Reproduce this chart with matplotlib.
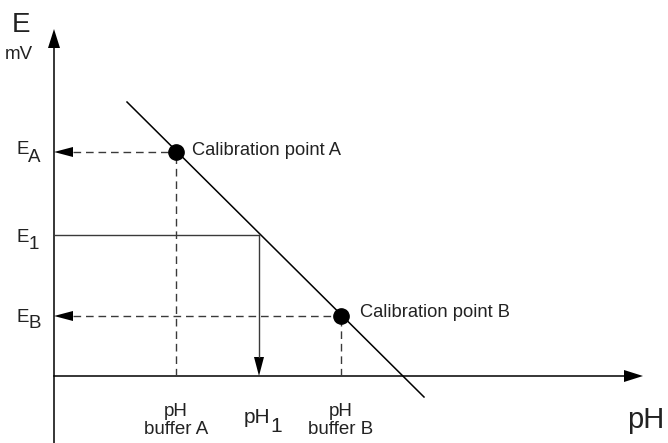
import matplotlib
matplotlib.use("Agg")
import matplotlib.pyplot as plt

plt.rcParams['font.family'] = ['Liberation Sans', 'DejaVu Sans']

# diagram units (origin = axis crossing, 1 unit ~ 1 px)
ph_cal = [122, 287]          # pH buffer A, pH buffer B
e_cal = [224, 60]            # E_A, E_B
cal_names = ['Calibration point A', 'Calibration point B']
ph_1 = 205
e_1 = 141
line_x = [73, 370]           # electrode response line
line_y = [274, -21]
x_axis_end = 589
y_axis_end = 347
y_axis_start = -67

fig = plt.figure(figsize=(6.68, 4.43), dpi=100)
ax = fig.add_axes([0, 0, 1, 1])
ax.set_xlim(-54, 614)
ax.set_ylim(-67, 376)
ax.axis('off')

# axes with arrow heads
hl = 19
hw = 12
ax.plot([0, 0], [y_axis_start, y_axis_end - hl], color='black', lw=1.1)
ax.arrow(0, y_axis_end - hl, 0, hl, head_width=hw, head_length=hl,
         length_includes_head=True, fc='black', ec='none', width=0.01)
ax.plot([0, x_axis_end - hl], [0, 0], color='black', lw=1.1)
ax.arrow(x_axis_end - hl, 0, hl, 0, head_width=hw, head_length=hl,
         length_includes_head=True, fc='black', ec='none', width=0.01)

# response line
ax.plot(line_x, line_y, color='black', lw=1.1)

# dashed helpers from calibration points
for px, ey in zip(ph_cal, e_cal):
    ax.plot([px, px], [0, ey], color='#3a3a3a', lw=1.0, dashes=(5.5, 3.5))
    ax.plot([hl, px], [ey, ey], color='#3a3a3a', lw=1.0, dashes=(5.5, 3.5))
    ax.arrow(hl, ey, -hl, 0, head_width=10, head_length=hl,
             length_includes_head=True, fc='black', ec='none', width=0.01)
ax.plot(ph_cal, e_cal, 'o', color='black', markersize=11)

# measured value E1 -> pH1
ax.plot([0, ph_1], [e_1, e_1], color='#3a3a3a', lw=1.0)
ax.plot([ph_1, ph_1], [e_1, hl], color='#3a3a3a', lw=1.0)
ax.arrow(ph_1, hl, 0, -hl, head_width=10, head_length=hl,
         length_includes_head=True, fc='black', ec='none', width=0.01)

# texts
c = '#222222'
ax.text(-42, 344, 'E', fontsize=20, color=c)
ax.text(-49, 317, 'mV', fontsize=13.5, color=c)
ax.text(-37, 222, 'E', fontsize=13.5, color=c)
ax.text(-26, 214, 'A', fontsize=13.5, color=c)
ax.text(-37, 134, 'E', fontsize=13.5, color=c)
ax.text(-25, 127, '1', fontsize=13.5, color=c)
ax.text(-37, 54, 'E', fontsize=13.5, color=c)
ax.text(-26, 48, 'B', fontsize=13.5, color=c)
ax.text(ph_cal[0] + 16, e_cal[0] - 3, cal_names[0], fontsize=13.2, color=c)
ax.text(ph_cal[1] + 19, e_cal[1] - 1, cal_names[1], fontsize=13.2, color=c)
for px, lab in zip(ph_cal, ['buffer A', 'buffer B']):
    ax.text(px, -40, 'pH', fontsize=13.5, color=c, ha='center')
    ax.text(px, -58, lab, fontsize=13.5, color=c, ha='center')
ax.text(ph_1 - 15, -47, 'pH', fontsize=15, color=c)
ax.text(ph_1 + 11, -56, '1', fontsize=15, color=c)
ax.text(573, -52, 'pH', fontsize=21, color=c)

fig.savefig('out.png', dpi=100)
